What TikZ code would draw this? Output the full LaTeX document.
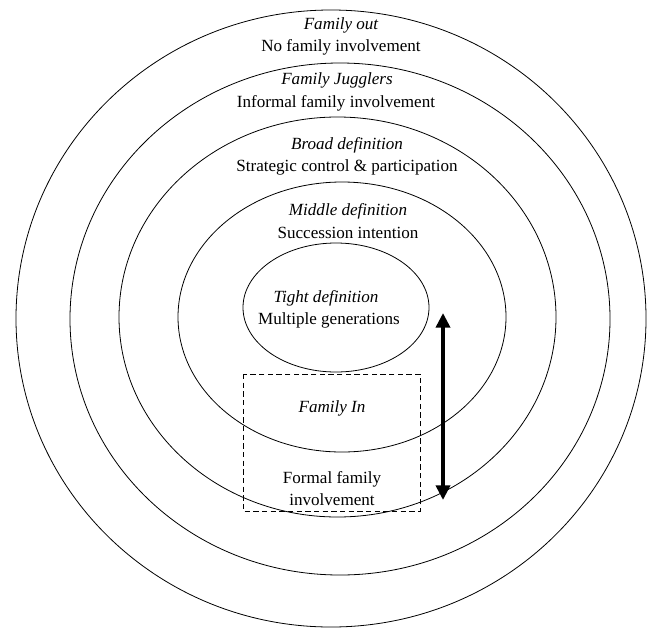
\documentclass[tikz,border=0pt]{standalone}
\usepackage{fontspec}
\setmainfont{Liberation Serif}
\usetikzlibrary{arrows.meta}
\tikzset{
  ring/.style={draw=black, line width=0.6pt},
  lbl/.style={inner sep=0pt, align=center, font=\fontsize{12.8}{16.5}\selectfont},
  ttl/.style={inner sep=0pt, align=center, font=\fontsize{12.8}{16.5}\selectfont\itshape},
  dashbox/.style={draw=black, line width=0.6pt, dash pattern=on 4pt off 2.5pt},
  bigarrow/.style={{Triangle[length=11pt,width=10.5pt]}-{Triangle[length=11pt,width=10.5pt]}, line width=3.2pt},
}
\begin{document}
\begin{tikzpicture}[x=0.75pt, y=-0.75pt]
        \useasboundingbox (0,0) rectangle (648,628);
        % rings, outside in
        \draw[ring] (331,318.5) ellipse (315 and 308.5);
        \draw[ring] (340,319) ellipse (270 and 256);
        \draw[ring] (337.5,317) ellipse (218.5 and 200);
        \draw[ring] (342,317) ellipse (164 and 135);
        \draw[ring] (336,307.5) ellipse (93 and 64.5);
        \node[ttl] (out) at (341,25) {Family out};
        \node[lbl] (outtxt) at (341,47) {No family involvement};
        \node[ttl] (jugglers) at (337,80) {Family Jugglers};
        \node[lbl] (jugglerstxt) at (336,103) {Informal family involvement};
        \node[ttl] (broad) at (347,145) {Broad definition};
        \node[lbl] (broadtxt) at (347,167) {Strategic control \& participation};
        \node[ttl] (middle) at (348,211) {Middle definition};
        \node[lbl] (middletxt) at (348,233) {Succession intention};
        \node[ttl] (tight) at (326,298) {Tight definition};
        \node[lbl] (tighttxt) at (329,320) {Multiple generations};
        % family in box
        \draw[dashbox] (243,374) rectangle (420,511);
        \node[ttl] (famin) at (332,408) {Family In};
        \node[lbl] (formal) at (332,489) {Formal family\\involvement};
        \coordinate (top) at (443,313);
        \coordinate (bottom) at (443,500);
        \draw[bigarrow] (top) -- (bottom);
\end{tikzpicture}
\end{document}
